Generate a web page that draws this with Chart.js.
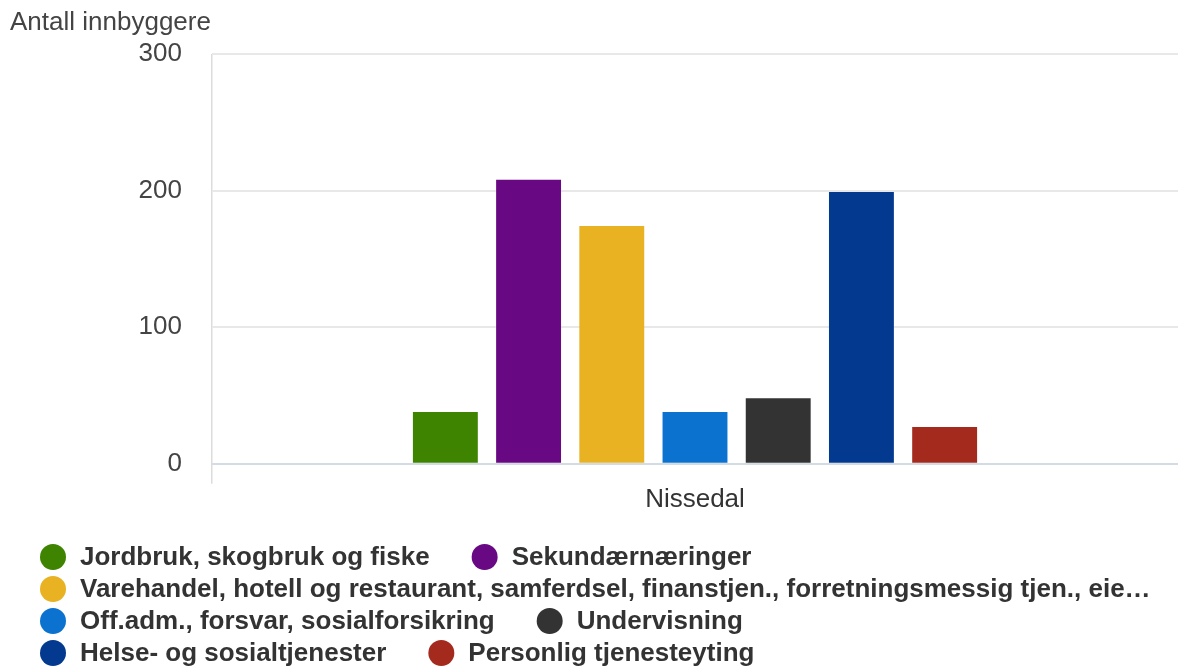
<!DOCTYPE html>
<html>
<head>
<meta charset="utf-8">
<script src="https://cdn.jsdelivr.net/npm/chart.js@4"></script>
<style>
body { margin: 0; background: #fff; }
#wrap { width: 1178px; height: 666px; }
</style>
</head>
<body>
<div id="wrap"><canvas id="bar-chart"></canvas></div>
<script>
var categories = ["Nissedal"];
var seriesNames = [
  "Jordbruk, skogbruk og fiske",
  "Sekundærnæringer",
  "Varehandel, hotell og restaurant, samferdsel, finanstjen., forretningsmessig tjen., eie…",
  "Off.adm., forsvar, sosialforsikring",
  "Undervisning",
  "Helse- og sosialtjenester",
  "Personlig tjenesteyting"
];
var seriesValues = [38, 208, 174, 38, 48, 199, 27];
var seriesColors = ["#3e8401", "#690883", "#e8b222", "#0b73cf", "#333333", "#03398f", "#a42a1e"];
var yTicks = [0, 100, 200, 300];
var yTitle = "Antall innbyggere";

Chart.defaults.font.family = '"Liberation Sans", Arial, sans-serif';
Chart.defaults.font.size = 26;
Chart.defaults.color = "#444";

// y-axis title at top left and the bottom legend with Google-like wrapping
var extras = {
  id: "extras",
  afterDraw: function(chart) {
    var ctx = chart.ctx;
    ctx.save();
    ctx.textBaseline = "middle";
    ctx.font = '26px "Liberation Sans", Arial, sans-serif';
    ctx.fillStyle = "#444";
    ctx.fillText(yTitle, 10, 23);

    ctx.font = 'bold 26px "Liberation Sans", Arial, sans-serif';
    var x = 40, y = 557, rowH = 32, gap = 42, maxX = 1100;
    chart.data.datasets.forEach(function(ds, i) {
      var w = 40 + ctx.measureText(ds.label).width;
      if (i > 0 && x + w > maxX) { x = 40; y += rowH; }
      ctx.fillStyle = ds.backgroundColor;
      ctx.beginPath();
      ctx.arc(x + 13, y, 13, 0, Math.PI * 2);
      ctx.fill();
      ctx.fillStyle = "#333";
      ctx.fillText(ds.label, x + 40, y + 1);
      x += w + gap;
    });
    ctx.restore();
  }
};

var datasets = seriesNames.map(function(name, i) {
  return {
    label: name,
    data: [seriesValues[i]],
    backgroundColor: seriesColors[i],
    categoryPercentage: 0.603,
    barPercentage: 0.78
  };
});

var chart = new Chart(document.getElementById("bar-chart"), {
  type: "bar",
  data: { labels: categories, datasets: datasets },
  options: {
    responsive: true,
    maintainAspectRatio: false,
    animation: false,
    layout: { padding: { top: 54, bottom: 151, left: 0, right: 0 } },
    plugins: {
      legend: { display: false },
      tooltip: { enabled: false }
    },
    scales: {
      x: {
        grid: {
          lineWidth: 1.5,
          tickLength: 20,
          color: function(c) { return c.index === 0 ? "#dcdcdc" : "rgba(0,0,0,0)"; }
        },
        border: { display: false },
        ticks: { color: "#333", padding: 0 }
      },
      y: {
        min: yTicks[0],
        max: yTicks[yTicks.length - 1],
        afterBuildTicks: function(scale) {
          scale.ticks = yTicks.map(function(v) { return { value: v }; });
        },
        afterFit: function(scale) { scale.width = 212; },
        grid: {
          drawTicks: false,
          lineWidth: 2,
          color: function(c) { return c.tick && c.tick.value === 0 ? "#d3dbe5" : "#e8e8e8"; }
        },
        border: { display: false },
        ticks: { padding: 30, color: "#444" }
      }
    }
  },
  plugins: [extras]
});
</script>
</body>
</html>
